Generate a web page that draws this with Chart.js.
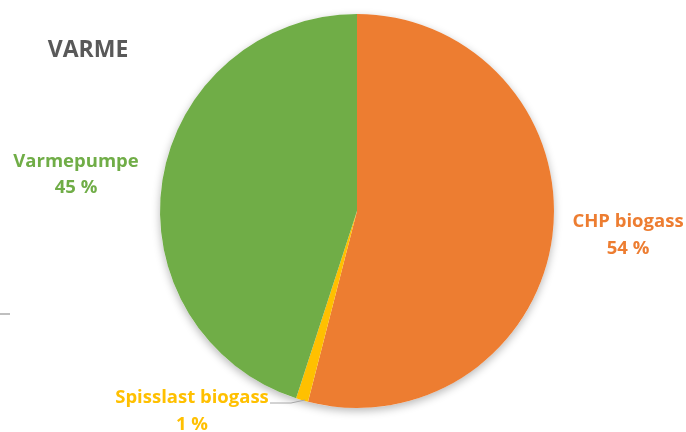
<!DOCTYPE html>
<html>
<head>
<meta charset="utf-8">
<script src="https://cdn.jsdelivr.net/npm/chart.js@4"></script>
<style>
  html, body { margin: 0; padding: 0; background: #fff; }
  #wrap { width: 686px; height: 432px; position: relative; }
</style>
</head>
<body>
<div id="wrap"><canvas id="pie"></canvas></div>
<script>
const title = "VARME";
const categories = ["CHP biogass", "Spisslast biogass", "Varmepumpe"];
const shares = [54, 1, 45];
const colors = ["#ED7D31", "#FFC000", "#70AD47"];

// soft drop shadow behind the pie, like the original
const pieShadow = {
  id: "pieShadow",
  beforeDatasetsDraw(chart) {
    const arc = chart.getDatasetMeta(0).data[0];
    const ctx = chart.ctx;
    ctx.save();
    ctx.shadowColor = "rgba(0,0,0,0.28)";
    ctx.shadowBlur = 9;
    ctx.shadowOffsetY = 3;
    ctx.fillStyle = "#fff";
    ctx.beginPath();
    ctx.arc(arc.x, arc.y, arc.outerRadius, 0, Math.PI * 2);
    ctx.fill();
    ctx.restore();
  }
};

// title, slice labels and leader line
const pieLabels = {
  id: "pieLabels",
  afterDraw(chart) {
    const ctx = chart.ctx;
    const arc = chart.getDatasetMeta(0).data[0];
    const cx = arc.x, cy = arc.y;
    ctx.save();
    ctx.textAlign = "center";
    ctx.textBaseline = "middle";

    ctx.fillStyle = "#595959";
    ctx.font = "bold 23px 'Open Sans'";
    ctx.fillText(title, 88, 50);

    // label offsets from pie centre
    const spots = [[271, 11, 38], [-165, 187, 214], [-281, -49, -23]];
    ctx.font = "bold 18.5px 'Open Sans'";
    categories.forEach((name, i) => {
      const [dx, dy1, dy2] = spots[i];
      ctx.fillStyle = colors[i];
      ctx.fillText(name, cx + dx, cy + dy1);
      ctx.fillText(shares[i] + " %", cx + dx, cy + dy2);
    });

    // leader for the tiny slice
    ctx.strokeStyle = "#A6A6A6";
    ctx.lineWidth = 1;
    ctx.beginPath();
    ctx.moveTo(cx - 87, cy + 192);
    ctx.lineTo(cx - 66, cy + 192);
    ctx.lineTo(cx - 52, cy + 189);
    ctx.stroke();

    // stray gray stub at the left edge
    ctx.strokeStyle = "#BFBFBF";
    ctx.lineWidth = 2;
    ctx.beginPath();
    ctx.moveTo(0, 314);
    ctx.lineTo(10, 314);
    ctx.stroke();
    ctx.restore();
  }
};

new Chart(document.getElementById("pie"), {
  type: "pie",
  data: {
    labels: categories,
    datasets: [{
      data: shares,
      backgroundColor: colors,
      borderWidth: 0
    }]
  },
  options: {
    responsive: true,
    maintainAspectRatio: false,
    animation: false,
    layout: { padding: { left: 160, right: 132, top: 14, bottom: 24 } },
    plugins: {
      legend: { display: false },
      tooltip: { enabled: false }
    }
  },
  plugins: [pieShadow, pieLabels]
});
</script>
</body>
</html>
